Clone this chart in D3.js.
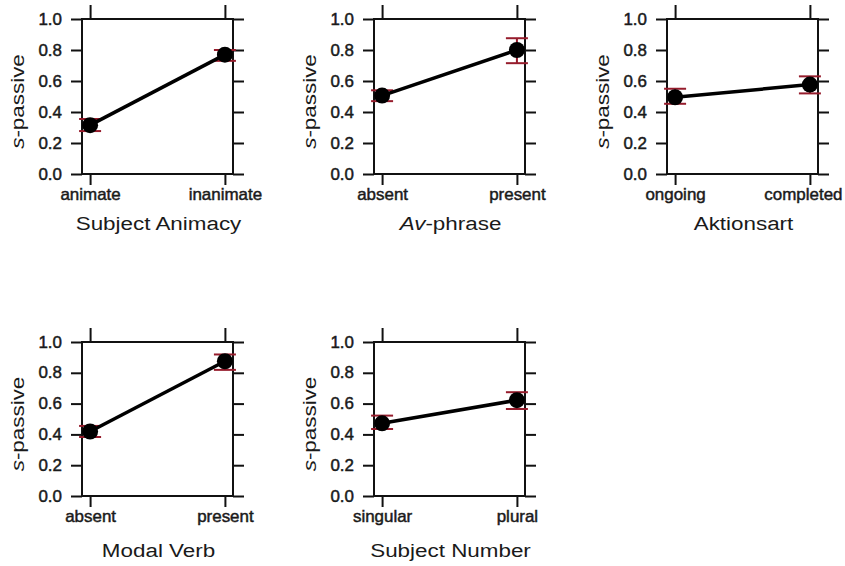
<!DOCTYPE html>
<html><head><meta charset="utf-8">
<script src="https://cdn.jsdelivr.net/npm/d3@7/dist/d3.min.js"></script>
<style>body{margin:0;background:#fff}svg{display:block}</style>
</head><body>
<script>
const panelTitles = ["Subject Animacy", "Av-phrase", "Aktionsart", "Modal Verb", "Subject Number"];
const categories = [["animate","inanimate"],["absent","present"],["ongoing","completed"],["absent","present"],["singular","plural"]];
const estimates = [[0.315,0.77],[0.506,0.80],[0.495,0.577],[0.419,0.875],[0.472,0.622]];
const lowerCI   = [[0.277,0.73],[0.47,0.715],[0.453,0.52],[0.383,0.819],[0.435,0.565]];
const upperCI   = [[0.355,0.80],[0.54,0.876],[0.55,0.63],[0.455,0.919],[0.522,0.674]];
const yTicks = [0, 0.2, 0.4, 0.6, 0.8, 1.0];
const yTitle = "passive";

const W = 845, H = 566;
const svg = d3.select("body").append("svg").attr("width", W).attr("height", H);

const colLeft = [82, 374, 667];
const boxW = 151;
const rowTop = [19, 342];
const boxH = [155, 154];
const titleOffset = [56, 61];
const tickLen = 11;
const font = "'Liberation Sans', Arial, sans-serif";
const sxTick = 1.06, sxTitle = 1.18;

panelTitles.forEach((title, i) => {
  const col = i % 3, row = Math.floor(i / 3);
  const x0 = colLeft[col], y0 = rowTop[row], bh = boxH[row];
  const g = svg.append("g").attr("transform", `translate(${x0},${y0})`);
  const x = d3.scalePoint().domain(categories[i]).range([0, boxW]).padding(0.06);
  const y = d3.scaleLinear().domain([0, 1]).range([bh, 0]);

  const styleAxis = (sel, labels) => {
    sel.select(".domain").remove();
    sel.selectAll(".tick line").attr("stroke", "#111").attr("stroke-width", 2);
    if (!labels) sel.selectAll(".tick text").remove();
    else sel.selectAll(".tick text").attr("fill", "#1a1a1a").attr("stroke", "#1a1a1a").attr("stroke-width", 0.45)
      .style("font-family", font).style("font-size", "16px");
  };

  // axes
  const pad = 9;
  const gl = g.append("g").call(d3.axisLeft(y).tickValues(yTicks).tickFormat(d3.format(".1f")).tickSize(tickLen).tickPadding(pad));
  styleAxis(gl, true);
  gl.selectAll(".tick text")
    .attr("transform", `translate(${-(tickLen+pad)},0) scale(${sxTick},1) translate(${tickLen+pad},0)`);
  const gr = g.append("g").attr("transform", `translate(${boxW},0)`).call(d3.axisRight(y).tickValues(yTicks).tickSize(tickLen));
  styleAxis(gr, false);
  const gb = g.append("g").attr("transform", `translate(0,${bh})`).call(d3.axisBottom(x).tickSize(tickLen).tickPadding(4));
  styleAxis(gb, true);
  gb.selectAll(".tick text").attr("x", 0).attr("transform", `scale(${sxTick},1)`);
  // keep bottom labels inside the page
  gb.selectAll(".tick").each(function(d){
    const t = d3.select(this).select("text");
    const w = this.querySelector("text").getComputedTextLength() * sxTick;
    const rightEdge = x0 + x(d) + w / 2;
    const limit = W - 3;
    if (rightEdge > limit) {
      const shift = (rightEdge - limit) / sxTick;
      t.attr("x", -shift);
    }
  });
  const gt = g.append("g").call(d3.axisTop(x).tickSize(tickLen + 3));
  styleAxis(gt, false);

  // box
  g.append("rect").attr("x", 0).attr("y", 0).attr("width", boxW).attr("height", bh)
    .attr("fill", "none").attr("stroke", "#111").attr("stroke-width", 2);

  // error bars
  const cap = 11;
  categories[i].forEach((c, j) => {
    const cx = x(c);
    g.append("line").attr("x1", cx).attr("x2", cx).attr("y1", y(lowerCI[i][j])).attr("y2", y(upperCI[i][j]))
      .attr("stroke", "#961c2c").attr("stroke-width", 2);
    [lowerCI[i][j], upperCI[i][j]].forEach(v => {
      g.append("line").attr("x1", cx - cap).attr("x2", cx + cap).attr("y1", y(v)).attr("y2", y(v))
        .attr("stroke", "#961c2c").attr("stroke-width", 2);
    });
  });

  // line
  const pts = categories[i].map((c, j) => [x(c), y(estimates[i][j])]);
  g.append("path").attr("d", d3.line()(pts)).attr("fill", "none").attr("stroke", "#000").attr("stroke-width", 3.5);
  g.selectAll("circle.pt").data(pts).enter().append("circle").attr("class", "pt")
    .attr("cx", d => d[0]).attr("cy", d => d[1]).attr("r", 8).attr("fill", "#000");

  // x title
  const xt = g.append("text").attr("transform", `translate(${boxW/2 + 1},${bh + titleOffset[row]}) scale(${sxTitle},1)`)
    .attr("text-anchor", "middle").attr("fill", "#1a1a1a").style("font-family", font).style("font-size", "19px");
  if (title === "Av-phrase") {
    xt.append("tspan").style("font-style", "italic").text("Av");
    xt.append("tspan").text("-phrase");
  } else xt.text(title);

  // y title
  const yt = g.append("text").attr("transform", `translate(${-58},${bh/2 + 5}) rotate(-90) scale(${sxTitle},1)`)
    .attr("text-anchor", "middle").attr("fill", "#1a1a1a").style("font-family", font).style("font-size", "19px");
  yt.append("tspan").style("font-style", "italic").text("s");
  yt.append("tspan").text("-" + yTitle);
});
</script>
</body></html>
